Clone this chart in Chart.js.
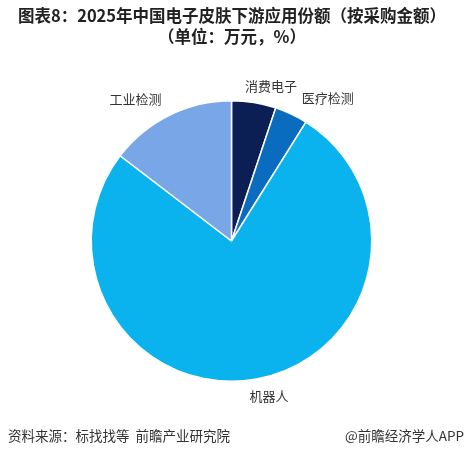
<!DOCTYPE html>
<html>
<head>
<meta charset="utf-8">
<script src="https://cdn.jsdelivr.net/npm/chart.js@4.4.0/dist/chart.umd.min.js"></script>
<style>
  html, body { margin: 0; padding: 0; background: #fff; }
  #wrap { position: relative; width: 465px; height: 456px; }
  canvas { position: absolute; left: 0; top: 0; }
</style>
</head>
<body>
<div id="wrap"><canvas id="pieChart" width="465" height="456"></canvas></div>
<script>
// === Data ===
const categories = ['消费电子', '医疗检测', '机器人', '工业检测'];
const shares = [5.1, 3.8, 76.5, 14.6];
const sliceColors = ['#0c1f55', '#0a6cbf', '#0ab2ee', '#78a6e7'];

// label nudges (px) relative to the default spot just outside each slice
const labelNudge = [[14, 3], [28, 2.5], [9, -2.6], [-25, 1.5]];

const titleLines = ['图表8：2025年中国电子皮肤下游应用份额（按采购金额）', '（单位：万元，%）'];
const sourceText = '资料来源：标找找等  前瞻产业研究院';
const brandText = '@前瞻经济学人APP';

const FONT = '"Noto Sans CJK SC", "Noto Sans", sans-serif';

// === Plugins ===
const textPlugin = {
  id: 'textPlugin',
  afterDatasetsDraw(chart) {
    const ctx = chart.ctx;
    const arcs = chart.getDatasetMeta(0).data;
    ctx.save();
    ctx.font = '13px ' + FONT;
    ctx.fillStyle = '#333';
    ctx.textAlign = 'center';
    ctx.textBaseline = 'middle';
    arcs.forEach((arc, i) => {
      const p = arc.getProps(['x', 'y', 'startAngle', 'endAngle', 'outerRadius'], true);
      const mid = (p.startAngle + p.endAngle) / 2;
      const r = p.outerRadius + 20;
      const lx = p.x + Math.cos(mid) * r + labelNudge[i][0];
      const ly = p.y + Math.sin(mid) * r + labelNudge[i][1];
      ctx.fillText(categories[i], lx, ly);
    });
    ctx.restore();
  },
  afterDraw(chart) {
    const ctx = chart.ctx;
    ctx.save();
    ctx.fillStyle = '#222';
    ctx.textAlign = 'center';
    ctx.textBaseline = 'middle';
    ctx.font = 'bold 16.5px ' + FONT;
    ctx.fillText(titleLines[0], 232, 16);
    ctx.fillText(titleLines[1], 232, 37);
    ctx.font = '13.5px ' + FONT;
    ctx.fillStyle = '#333';
    ctx.textAlign = 'left';
    ctx.fillText(sourceText, 8, 436);
    ctx.textAlign = 'right';
    ctx.fillText(brandText, 464, 436);
    ctx.restore();
  }
};

// === Chart ===
new Chart(document.getElementById('pieChart'), {
  type: 'pie',
  data: {
    labels: categories,
    datasets: [{
      data: shares,
      backgroundColor: sliceColors,
      borderColor: '#ffffff',
      borderWidth: 1.5
    }]
  },
  options: {
    responsive: false,
    animation: false,
    layout: { padding: { top: 100, bottom: 74, left: 90, right: 92 } },
    plugins: {
      legend: { display: false },
      tooltip: { enabled: false }
    }
  },
  plugins: [textPlugin]
});
</script>
</body>
</html>
